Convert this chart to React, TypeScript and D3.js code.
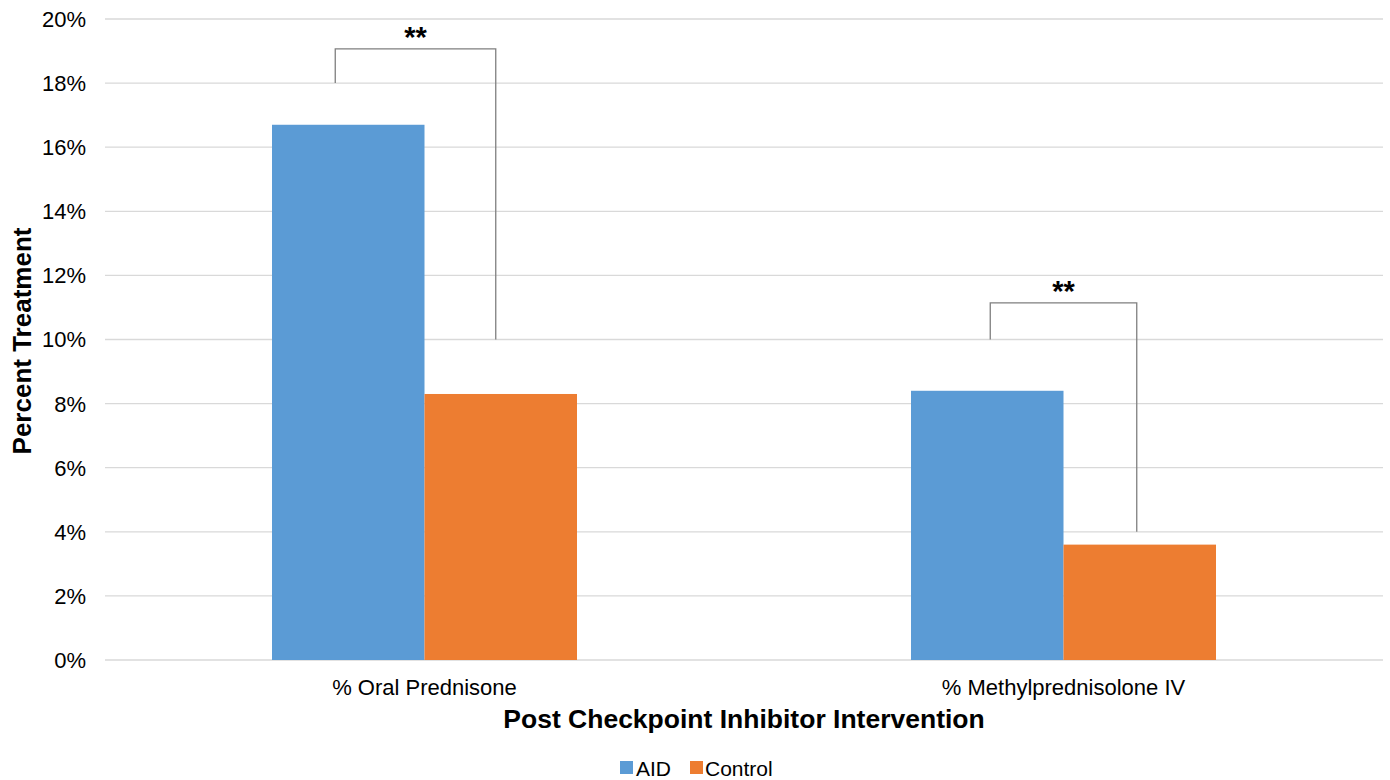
import React from "react";
import * as d3 from "d3";

const categories = ["% Oral Prednisone", "% Methylprednisolone IV"];
const seriesNames = ["AID", "Control"];
const aidValues = [16.7, 8.4];
const controlValues = [8.3, 3.6];
const seriesColors = ["#5B9BD5", "#ED7D31"];
const yTicks = [0, 2, 4, 6, 8, 10, 12, 14, 16, 18, 20];
// significance brackets: category index, leg bottoms and top (in % units), label
const brackets = [
  { cat: 0, leftBottom: 18, rightBottom: 10, top: 19.07, label: "**" },
  { cat: 1, leftBottom: 10, rightBottom: 4, top: 11.14, label: "**" },
];

const W = 1390;
const H = 780;
const margin = { left: 105, right: 7 };
const font = "'Liberation Sans', Arial, sans-serif";
const legOffsets = [
  [-13, -5],
  [3, -3],
];

export default function App() {
  const innerW = W - margin.left - margin.right;
  const y = d3.scaleLinear().domain([0, 20]).range([660, 19]);
  const x0 = d3.scaleBand().domain(categories).range([margin.left, margin.left + innerW]).paddingInner(0).paddingOuter(0);
  const groupW = 305;
  const x1 = d3.scaleBand().domain(seriesNames).range([0, groupW]).padding(0);
  const series = [aidValues, controlValues];

  return (
    <svg width={W} height={H} style={{ position: "absolute", left: 0, top: 0, background: "#fff" }}>
      <rect x={0} y={0} width={W} height={H} fill="#fff" />
      {yTicks.map((t) => (
        <g key={t}>
          <line x1={margin.left} x2={W - margin.right} y1={y(t)} y2={y(t)} stroke="#D9D9D9" strokeWidth={1.3} />
          <text x={86} y={y(t)} dy="0.36em" textAnchor="end" fontFamily={font} fontSize={22} fill="#000">
            {t}%
          </text>
        </g>
      ))}
      {categories.map((c, ci) => {
        const gx = (x0(c) as number) + x0.bandwidth() / 2 - groupW / 2;
        return (
          <g key={c}>
            {seriesNames.map((s, si) => (
              <rect
                key={s}
                x={gx + (x1(s) as number)}
                y={y(series[si][ci])}
                width={x1.bandwidth()}
                height={y(0) - y(series[si][ci])}
                fill={seriesColors[si]}
              />
            ))}
            <text
              x={(x0(c) as number) + x0.bandwidth() / 2}
              y={695}
              textAnchor="middle"
              fontFamily={font}
              fontSize={22}
              fill="#000"
            >
              {c}
            </text>
          </g>
        );
      })}
      {brackets.map((b, i) => {
        const c = categories[b.cat];
        const gx = (x0(c) as number) + x0.bandwidth() / 2 - groupW / 2;
        const lx = gx + (x1("AID") as number) + x1.bandwidth() / 2 + legOffsets[i][0];
        const rx = gx + (x1("Control") as number) + x1.bandwidth() / 2 + legOffsets[i][1];
        const path = `M${lx},${y(b.leftBottom)} V${y(b.top)} H${rx} V${y(b.rightBottom)}`;
        return (
          <g key={i}>
            <path d={path} fill="none" stroke="#7F7F7F" strokeWidth={1.3} />
            <text x={(lx + rx) / 2} y={y(b.top) - 2} textAnchor="middle" fontFamily={font} fontWeight="bold" fontSize={29} fill="#000">
              {b.label}
            </text>
          </g>
        );
      })}
      <text
        transform={`translate(31,341) rotate(-90)`}
        textAnchor="middle"
        fontFamily={font}
        fontWeight="bold"
        fontSize={26}
        fill="#000"
      >
        Percent Treatment
      </text>
      <text x={744} y={728} textAnchor="middle" fontFamily={font} fontWeight="bold" fontSize={26.5} fill="#000">
        Post Checkpoint Inhibitor Intervention
      </text>
      <g>
        <rect x={620} y={761} width={13} height={13} fill={seriesColors[0]} />
        <text x={636} y={776} fontFamily={font} fontSize={21} fill="#000">AID</text>
        <rect x={690} y={761} width={13} height={13} fill={seriesColors[1]} />
        <text x={705} y={776} fontFamily={font} fontSize={21} fill="#000">Control</text>
      </g>
    </svg>
  );
}
